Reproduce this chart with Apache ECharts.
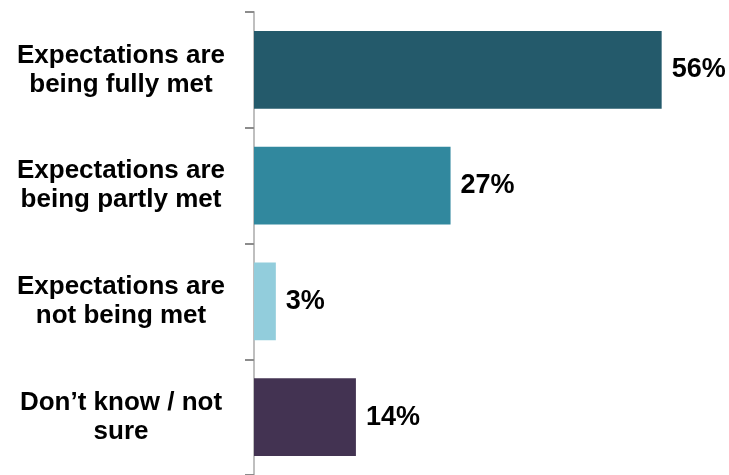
<!DOCTYPE html>
<html><head><meta charset="utf-8">
<script src="https://cdn.jsdelivr.net/npm/echarts@6/dist/echarts.min.js"></script>
<style>html,body{margin:0;padding:0;background:#fff}#c{width:729px;height:475px}</style>
</head><body><div id="c"></div>
<script>
const categories = ["Expectations are\nbeing fully met", "Expectations are\nbeing partly met", "Expectations are\nnot being met", "Don\u2019t know / not\nsure"];
const values = [56, 27, 3, 14];
const colors = ["#245A6B", "#31889E", "#92CDDC", "#433352"];

const chart = echarts.init(document.getElementById('c'));
chart.setOption({
  animation: false,
  grid: { left: 254, right: 4, top: 12, bottom: -4, containLabel: false },
  xAxis: { type: 'value', min: 0, max: 64.7, show: false },
  yAxis: {
    type: 'category', data: categories, inverse: true,
    axisLine: { show: true, lineStyle: { color: '#BFBFBF', width: 2 } },
    axisTick: { show: true, interval: 0, length: 9, lineStyle: { color: '#8C8C8C', width: 2 } },
    axisLabel: { align: 'center', margin: 133, color: '#000', fontFamily: 'Liberation Sans, Arial, sans-serif', fontWeight: 'bold', fontSize: 26, lineHeight: 29 }
  },
  series: [{
    type: 'bar', barWidth: '67%',
    data: values.map((v, i) => ({ value: v, itemStyle: { color: colors[i] } })),
    label: { show: true, position: 'right', distance: 10, formatter: '{c}%', color: '#000', fontFamily: 'Liberation Sans, Arial, sans-serif', fontWeight: 'bold', fontSize: 27 }
  }]
});
</script></body></html>
